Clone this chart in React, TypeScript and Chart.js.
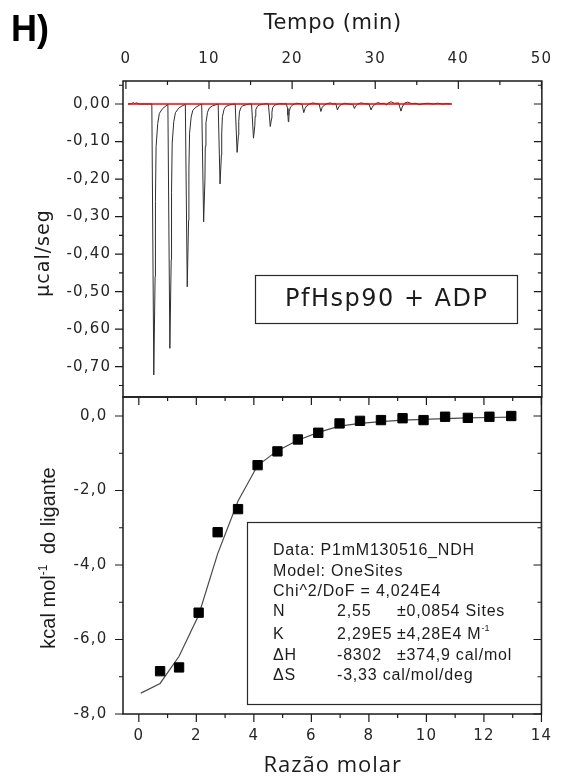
import React, { useEffect, useRef } from 'react';
import { Chart, registerables } from 'chart.js';

Chart.register(...registerables);

const W = 564;
const H = 781;

// ---------- tick values ----------
const timeTicks = [0, 10, 20, 30, 40, 50];
const timeMinorTicks = [5, 15, 25, 35, 45];
const powerTicks = [0, -0.1, -0.2, -0.3, -0.4, -0.5, -0.6, -0.7];
const powerMinorTicks = [0.05, -0.05, -0.15, -0.25, -0.35, -0.45, -0.55, -0.65, -0.75];
const ratioTicks = [0, 2, 4, 6, 8, 10, 12, 14];
const ratioMinorTicks = [1, 3, 5, 7, 9, 11, 13];
const heatTicks = [0, -2, -4, -6, -8];
const heatMinorTicks = [-1, -3, -5, -7];

// ---------- raw thermogram (min, µcal/s) ----------
const thermoTime = [
  0.25, 0.7, 0.9, 1.05, 1.3, 1.6, 2.2, 2.8, 3.12,
  3.354, 3.513, 3.552, 3.631, 3.828, 4.026, 4.42, 4.82, 5.05,
  5.289, 5.45, 5.49, 5.57, 5.76, 5.96, 6.36, 6.76, 7.15,
  7.38, 7.54, 7.58, 7.66, 7.85, 8.05, 8.45, 8.85, 9.12,
  9.354, 9.51, 9.55, 9.63, 9.82, 10.02, 10.42, 10.82, 11.1,
  11.327, 11.49, 11.53, 11.61, 11.8, 12.0, 12.4, 12.8, 13.15,
  13.38, 13.54, 13.58, 13.66, 13.85, 14.05, 14.45, 14.85, 15.12,
  15.35, 15.51, 15.55, 15.63, 15.82, 16.02, 16.42, 16.9, 17.15,
  17.37, 17.53, 17.57, 17.65, 17.84, 18.04, 18.5, 19.0, 19.3,
  19.45, 19.5, 19.54, 19.6, 19.66, 19.8, 20.1, 20.5, 20.9, 21.2,
  21.4, 21.55, 21.75, 22.1, 22.5, 22.9, 23.25,
  23.46, 23.6, 23.8, 24.2, 24.6, 24.9, 25.25,
  25.45, 25.6, 25.8, 26.3, 26.8, 27.3,
  27.5, 27.65, 27.9, 28.3, 28.7, 29.25,
  29.5, 29.65, 29.9, 30.3, 30.7, 31.1, 31.35, 31.5, 31.9, 32.3, 32.8,
  33.1, 33.25, 33.5, 33.9, 34.4, 34.9, 35.3, 35.8, 36.4, 37.0, 37.5, 38.1, 38.6, 39.2,
];
const thermoPower = [
  0.0, 0.001, 0.004, 0.001, 0.003, 0.0, 0.0, 0.0, 0.0,
  -0.722, -0.46, -0.26, -0.114, -0.052, -0.025, -0.012, -0.005, -0.001,
  -0.651, -0.415, -0.235, -0.104, -0.047, -0.023, -0.011, -0.005, -0.001,
  -0.487, -0.31, -0.176, -0.078, -0.035, -0.017, -0.008, -0.003, 0.0,
  -0.314, -0.2, -0.113, -0.05, -0.022, -0.011, -0.005, -0.002, 0.0,
  -0.213, -0.136, -0.077, -0.034, -0.015, -0.007, -0.003, -0.001, 0.0,
  -0.129, -0.083, -0.046, -0.021, -0.009, -0.005, -0.002, 0.0, 0.0,
  -0.091, -0.058, -0.033, -0.015, -0.006, -0.003, -0.001, 0.001, 0.0,
  -0.06, -0.038, -0.022, -0.01, -0.004, -0.002, 0.001, 0.0, 0.001,
  -0.012, -0.03, -0.047, -0.04, -0.02, -0.008, -0.002, 0.002, 0.001, -0.001,
  -0.023, -0.012, -0.005, 0.0, 0.003, 0.001, 0.0,
  -0.02, -0.01, -0.004, 0.001, 0.003, 0.0, 0.001,
  -0.016, -0.008, -0.003, 0.002, 0.0, -0.001,
  -0.012, -0.005, 0.0, 0.003, 0.001, 0.0,
  -0.016, -0.008, -0.002, 0.004, 0.001, 0.002, -0.003, 0.002, 0.006, 0.002, 0.003,
  -0.019, -0.008, 0.002, 0.005, 0.001, 0.002, -0.002, 0.001, 0.002, 0.0, 0.002, 0.0, 0.001, 0.0,
];
const baselineTime = [0.25, 39.2];
const baselinePower = [0, 0];

// ---------- integrated heats ----------
const molarRatio = [0.74, 1.4, 2.08, 2.74, 3.45, 4.13, 4.82, 5.53, 6.24, 6.98, 7.69, 8.42, 9.17, 9.9, 10.65, 11.44, 12.19, 12.95];
const heatPerMol = [-6.85, -6.75, -5.28, -3.12, -2.5, -1.32, -0.95, -0.63, -0.45, -0.2, -0.13, -0.11, -0.06, -0.11, -0.02, -0.05, -0.02, 0.0];
const fitRatio = [0.07, 0.74, 1.4, 2.08, 2.74, 3.45, 4.13, 4.82, 5.53, 6.24, 6.98, 7.69, 8.42, 9.17, 9.9, 10.65, 11.44, 12.19, 12.95];
const fitHeat = [-7.44, -7.18, -6.45, -5.35, -3.7, -2.28, -1.33, -0.93, -0.65, -0.44, -0.27, -0.2, -0.15, -0.11, -0.09, -0.07, -0.05, -0.04, -0.03];

// ---------- texts ----------
const panelLabel = 'H)';
const timeTitle = 'Tempo (min)';
const powerTitle = 'µcal/seg';
const ratioTitle = 'Razão molar';
const sampleLabel = 'PfHsp90 + ADP';
const fitHeader = ['Data: P1mM130516_NDH', 'Model: OneSites', 'Chi^2/DoF = 4,024E4'];
const paramNames = ['N', 'K', 'ΔH', 'ΔS'];
const paramValues = ['2,55', '2,29E5', '-8302', '-3,33 cal/mol/deg'];
const paramErrors = ['±0,0854 Sites', '±4,28E4 M', '±374,9 cal/mol', ''];

const SANS = '"Liberation Sans", Arial, sans-serif';
const WIDE = '"DejaVu Sans", "Liberation Sans", sans-serif';
const TEXT = '#1c1c1c';
const FRAME = '#1a1a1a';
const TICK_FONT = { family: WIDE, size: 15 };
const TICK_SPACING = 1.2;

const comma = (v: number, d: number) => (Math.abs(v) < 1e-9 ? 0 : v).toFixed(d).replace('.', ',');

function spaced(ctx: any, text: string, x: number, y: number, font: string, spacing: number,
  align: CanvasTextAlign = 'left', baseline: CanvasTextBaseline = 'alphabetic', color = TEXT) {
  ctx.save();
  ctx.font = font;
  ctx.letterSpacing = spacing + 'px';
  ctx.fillStyle = color;
  ctx.textAlign = align;
  ctx.textBaseline = baseline;
  const dx = align === 'center' ? spacing / 2 : align === 'right' ? spacing : 0;
  ctx.fillText(text, x + dx, y);
  ctx.restore();
}

type Part = { t: string; font: string; dy?: number; spacing?: number; gap?: number };

function rotatedParts(ctx: any, parts: Part[], baseX: number, centerY: number) {
  ctx.save();
  ctx.translate(baseX, centerY);
  ctx.rotate(-Math.PI / 2);
  ctx.fillStyle = TEXT;
  ctx.textAlign = 'left';
  ctx.textBaseline = 'alphabetic';
  const widths = parts.map((p) => {
    ctx.font = p.font;
    ctx.letterSpacing = (p.spacing || 0) + 'px';
    return ctx.measureText(p.t).width + (p.gap || 0);
  });
  const total = widths.reduce((a, b) => a + b, 0);
  let x = -total / 2;
  parts.forEach((p, i) => {
    ctx.font = p.font;
    ctx.letterSpacing = (p.spacing || 0) + 'px';
    ctx.fillText(p.t, x, p.dy || 0);
    x += widths[i];
  });
  ctx.restore();
}

type Edge = 'top' | 'bottom' | 'left' | 'right';
function edgeTicks(chart: any, scaleId: string, edge: Edge, values: number[], len: number, outward: boolean) {
  const { ctx, chartArea: a } = chart;
  const s = chart.scales[scaleId];
  ctx.beginPath();
  values.forEach((v) => {
    const p = s.getPixelForValue(v);
    if (edge === 'top' || edge === 'bottom') {
      const y0 = edge === 'top' ? a.top : a.bottom;
      const dir = (edge === 'top' ? -1 : 1) * (outward ? 1 : -1);
      ctx.moveTo(p, y0);
      ctx.lineTo(p, y0 + dir * len);
    } else {
      const x0 = edge === 'left' ? a.left : a.right;
      const dir = (edge === 'left' ? -1 : 1) * (outward ? 1 : -1);
      ctx.moveTo(x0, p);
      ctx.lineTo(x0 + dir * len, p);
    }
  });
  ctx.stroke();
}

function drawFrame(chart: any) {
  const { ctx, chartArea: a } = chart;
  ctx.save();
  ctx.strokeStyle = FRAME;
  ctx.lineWidth = 1.5;
  ctx.strokeRect(a.left, a.top, a.right - a.left, a.bottom - a.top);
  ctx.restore();
}

const spacingPlugin = {
  id: 'spacing',
  beforeDraw(chart: any) {
    chart.ctx.letterSpacing = TICK_SPACING + 'px';
  },
};

const topDecor = {
  id: 'topDecor',
  afterDraw(chart: any) {
    const { ctx, chartArea: a } = chart;
    drawFrame(chart);
    ctx.save();
    ctx.strokeStyle = FRAME;
    ctx.lineWidth = 1.2;
    edgeTicks(chart, 'x', 'top', timeTicks, 8, false);
    edgeTicks(chart, 'x', 'top', timeMinorTicks, 4, false);
    edgeTicks(chart, 'y', 'left', powerTicks, 8, true);
    edgeTicks(chart, 'y', 'left', powerMinorTicks, 4, true);
    edgeTicks(chart, 'y', 'right', powerTicks, 8, false);
    edgeTicks(chart, 'y', 'right', powerMinorTicks, 4, false);
    ctx.restore();

    spaced(ctx, panelLabel, 11, 41, `bold 36px ${SANS}`, 0, 'left', 'alphabetic', '#000');
    spaced(ctx, timeTitle, (a.left + a.right) / 2, 24, `21px ${WIDE}`, 0.6, 'center', 'middle');
    rotatedParts(ctx, [{ t: powerTitle, font: `19px ${WIDE}`, spacing: 1 }], 48.5, 253);

    // sample label box
    ctx.save();
    ctx.strokeStyle = '#2a2a2a';
    ctx.lineWidth = 1.2;
    ctx.strokeRect(255.5, 275.5, 262, 48);
    ctx.restore();
    spaced(ctx, sampleLabel, 386, 300, `24px ${WIDE}`, 1.5, 'center', 'middle');
  },
};

const bottomDecor = {
  id: 'bottomDecor',
  afterDraw(chart: any) {
    const { ctx, chartArea: a } = chart;
    drawFrame(chart);
    ctx.save();
    ctx.strokeStyle = FRAME;
    ctx.lineWidth = 1.2;
    edgeTicks(chart, 'x', 'bottom', ratioTicks, 8, true);
    edgeTicks(chart, 'x', 'bottom', ratioMinorTicks, 4, true);
    edgeTicks(chart, 'x', 'top', ratioTicks, 8, false);
    edgeTicks(chart, 'x', 'top', ratioMinorTicks, 4, false);
    edgeTicks(chart, 'y', 'left', heatTicks, 8, true);
    edgeTicks(chart, 'y', 'left', heatMinorTicks, 4, true);
    edgeTicks(chart, 'y', 'right', heatTicks, 8, false);
    edgeTicks(chart, 'y', 'right', heatMinorTicks, 4, false);
    ctx.restore();

    spaced(ctx, ratioTitle, (a.left + a.right) / 2, 766, `22px "Open Sans", ${SANS}`, 1, 'center', 'middle');
    rotatedParts(ctx, [
      { t: 'kcal mol', font: `20px ${SANS}` },
      { t: '-1', font: `12px ${SANS}`, dy: -8, gap: 5 },
      { t: ' do ligante', font: `20px ${SANS}` },
    ], 55, 558);

    // fit results box
    ctx.save();
    ctx.strokeStyle = '#2a2a2a';
    ctx.lineWidth = 1.2;
    ctx.strokeRect(247.5, 522.5, 294, 182);
    ctx.restore();
    const f = `16px ${SANS}`;
    const sp = 0.8;
    const x1 = 273, x2 = 337, x3 = 397;
    const hy = [551, 572, 592];
    fitHeader.forEach((t, i) => spaced(ctx, t, x1, hy[i], f, sp, 'left', 'middle'));
    const py = [612, 635, 656, 676];
    paramNames.forEach((n, i) => {
      spaced(ctx, n, x1, py[i], f, sp, 'left', 'middle');
      spaced(ctx, paramValues[i], x2, py[i], f, sp, 'left', 'middle');
      if (paramErrors[i]) {
        spaced(ctx, paramErrors[i], x3, py[i], f, sp, 'left', 'middle');
        if (n === 'K') {
          ctx.save();
          ctx.font = f;
          ctx.letterSpacing = sp + 'px';
          const w = ctx.measureText(paramErrors[i]).width;
          ctx.restore();
          spaced(ctx, '-1', x3 + w, py[i] - 6, `9px ${SANS}`, 0, 'left', 'middle');
        }
      }
    });
  },
};

function topConfig(): any {
  return {
    type: 'line',
    data: {
      datasets: [
        {
          label: 'baseline',
          data: baselineTime.map((t, i) => ({ x: t, y: baselinePower[i] })),
          borderColor: '#ff0000',
          borderWidth: 1.6,
          pointRadius: 0,
          order: 0,
        },
        {
          label: 'thermogram',
          data: thermoTime.map((t, i) => ({ x: t, y: thermoPower[i] })),
          borderColor: '#2e2e2e',
          borderWidth: 1,
          pointRadius: 0,
          tension: 0,
          order: 1,
        },
      ],
    },
    options: {
      responsive: false,
      animation: false,
      devicePixelRatio: 1,
      layout: { padding: { left: 0, right: 15, top: 0, bottom: H - 397 } },
      plugins: { legend: { display: false }, tooltip: { enabled: false } },
      scales: {
        x: {
          type: 'linear',
          position: 'top',
          min: -0.35,
          max: 50.05,
          afterFit: (s: any) => { s.height = 81; },
          afterBuildTicks: (s: any) => { s.ticks = timeTicks.map((v) => ({ value: v })); },
          grid: { display: false, drawTicks: false },
          border: { display: false },
          ticks: { padding: 13, font: TICK_FONT, color: '#262626', autoSkip: false, maxRotation: 0, callback: (v: number) => String(v) },
        },
        y: {
          type: 'linear',
          position: 'left',
          min: -0.7807,
          max: 0.0613,
          afterFit: (s: any) => { s.width = 123; },
          afterBuildTicks: (s: any) => { s.ticks = powerTicks.map((v) => ({ value: v })); },
          grid: { display: false, drawTicks: false },
          border: { display: false },
          ticks: { padding: 11.8, font: TICK_FONT, color: '#262626', autoSkip: false, callback: (v: number) => comma(v, 2) },
        },
      },
    },
    plugins: [spacingPlugin, topDecor],
  };
}

function bottomConfig(): any {
  return {
    type: 'line',
    data: {
      datasets: [
        {
          label: 'data',
          data: molarRatio.map((r, i) => ({ x: r, y: heatPerMol[i] })),
          showLine: false,
          pointStyle: 'rect',
          pointRadius: 6.6,
          pointBackgroundColor: '#000',
          pointBorderColor: '#000',
          pointBorderWidth: 1,
          order: 0,
        },
        {
          label: 'fit',
          data: fitRatio.map((r, i) => ({ x: r, y: fitHeat[i] })),
          borderColor: '#4a4a4a',
          borderWidth: 1.2,
          pointRadius: 0,
          tension: 0,
          order: 1,
        },
      ],
    },
    options: {
      responsive: false,
      animation: false,
      devicePixelRatio: 1,
      layout: { padding: { left: 0, right: 15, top: 397, bottom: 0 } },
      plugins: { legend: { display: false }, tooltip: { enabled: false } },
      scales: {
        x: {
          type: 'linear',
          position: 'bottom',
          min: -0.55,
          max: 14,
          afterFit: (s: any) => { s.height = H - 714; },
          afterBuildTicks: (s: any) => { s.ticks = ratioTicks.map((v) => ({ value: v })); },
          grid: { display: false, drawTicks: false },
          border: { display: false },
          ticks: { padding: 13, font: TICK_FONT, color: '#262626', autoSkip: false, maxRotation: 0, callback: (v: number) => String(v) },
        },
        y: {
          type: 'linear',
          position: 'left',
          min: -8,
          max: 0.51,
          afterFit: (s: any) => { s.width = 123; },
          afterBuildTicks: (s: any) => { s.ticks = heatTicks.map((v) => ({ value: v })); },
          grid: { display: false, drawTicks: false },
          border: { display: false },
          ticks: { padding: 15.5, font: TICK_FONT, color: '#262626', autoSkip: false, callback: (v: number) => comma(v, 1) },
        },
      },
    },
    plugins: [spacingPlugin, bottomDecor],
  };
}

export default function App() {
  const topRef = useRef<HTMLCanvasElement>(null);
  const botRef = useRef<HTMLCanvasElement>(null);
  useEffect(() => {
    const c1 = new Chart(topRef.current as HTMLCanvasElement, topConfig());
    const c2 = new Chart(botRef.current as HTMLCanvasElement, bottomConfig());
    return () => {
      c1.destroy();
      c2.destroy();
    };
  }, []);
  const cs: React.CSSProperties = { position: 'absolute', left: 0, top: 0, width: W, height: H };
  return (
    <div style={{ position: 'absolute', left: 0, top: 0, width: W, height: H, background: '#fff' }}>
      <canvas ref={topRef} width={W} height={H} style={cs} />
      <canvas ref={botRef} width={W} height={H} style={cs} />
    </div>
  );
}
